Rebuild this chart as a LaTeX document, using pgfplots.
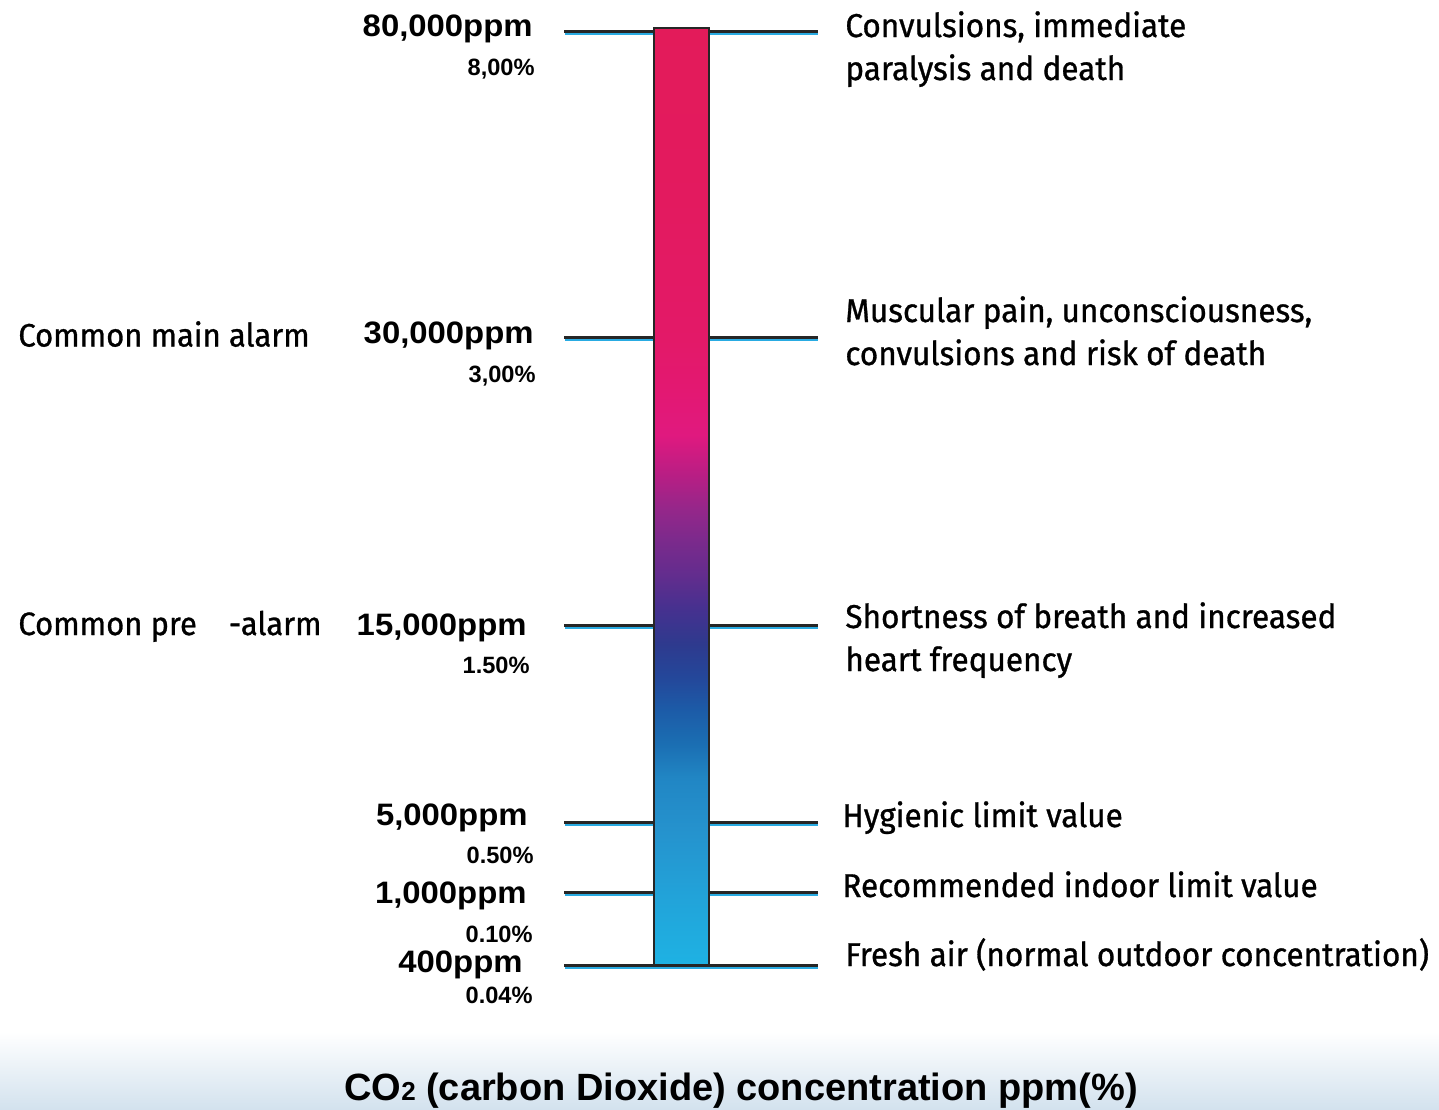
\documentclass[border=0pt]{standalone}
\usepackage{fontspec}
\setmainfont{Liberation Sans}
\newfontfamily\ppmfont{Liberation Sans}[FakeStretch=1.06]
\newfontfamily\descfont{Fira Sans}[FakeStretch=0.955,FakeBold=0.9]
\usepackage{pgfplots}
\pgfplotsset{compat=1.18}
\definecolor{lineblue}{HTML}{29ABE2}
\definecolor{bandblue}{HTML}{D3E2EE}
\definecolor{g01}{HTML}{1EB2E3}
\definecolor{g02}{HTML}{22A3D9}
\definecolor{g03}{HTML}{2592CD}
\definecolor{g04}{HTML}{2186C4}
\definecolor{g05}{HTML}{1B6FB3}
\definecolor{g06}{HTML}{1C5CA8}
\definecolor{g07}{HTML}{24479A}
\definecolor{g08}{HTML}{2E3A8E}
\definecolor{g09}{HTML}{45318F}
\definecolor{g10}{HTML}{622D8E}
\definecolor{g11}{HTML}{7A2A8C}
\definecolor{g12}{HTML}{95278A}
\definecolor{g13}{HTML}{B81E84}
\definecolor{g14}{HTML}{E0197F}
\definecolor{g15}{HTML}{E31872}
\definecolor{g16}{HTML}{E31968}
\definecolor{g17}{HTML}{E31A5F}
\definecolor{g18}{HTML}{E31B5A}
\pgfdeclareverticalshading{co2}{100bp}{color(0bp)=(g01); color(25bp)=(g01);
 color(28.68bp)=(g02); color(32.26bp)=(g03); color(34.98bp)=(g04);
 color(36.74bp)=(g05); color(38.56bp)=(g06); color(40.37bp)=(g07);
 color(42.13bp)=(g08); color(43.95bp)=(g09); color(45.76bp)=(g10);
 color(47.57bp)=(g11); color(49.33bp)=(g12); color(51.15bp)=(g13);
 color(53.28bp)=(g14); color(55.63bp)=(g15); color(58.35bp)=(g16);
 color(65.82bp)=(g17); color(75bp)=(g18); color(100bp)=(g18)}
\begin{document}
\begin{tikzpicture}
\begin{axis}[width=719.5pt,height=554.5pt,scale only axis,
  xmin=0,xmax=1439,ymin=0,ymax=1109,y dir=reverse,hide axis,clip=false]
% bottom band
\addplot[draw=none, shade, top color=white, bottom color=bandblue] coordinates {(0,1032) (1439,1032) (1439,1109) (0,1109)} -- cycle;
% level lines (cyan under-edge)
\addplot[lineblue, line width=1pt] coordinates {(565,33.5) (818,33.5)};
\addplot[lineblue, line width=1pt] coordinates {(565,339.5) (818,339.5)};
\addplot[lineblue, line width=1pt] coordinates {(565,627.5) (818,627.5)};
\addplot[lineblue, line width=1pt] coordinates {(565,824.5) (818,824.5)};
\addplot[lineblue, line width=1pt] coordinates {(565,894.5) (818,894.5)};
\addplot[lineblue, line width=1pt] coordinates {(565,967.5) (818,967.5)};
\addplot[black!85, line width=1.5pt] coordinates {(564,31) (818,31)};
\addplot[black!85, line width=1.5pt] coordinates {(564,337) (818,337)};
\addplot[black!85, line width=1.5pt] coordinates {(564,625) (818,625)};
\addplot[black!85, line width=1.5pt] coordinates {(564,822) (818,822)};
\addplot[black!85, line width=1.5pt] coordinates {(564,892) (818,892)};
\addplot[black!85, line width=1.5pt] coordinates {(564,965) (818,965)};
% gradient bar
\addplot[draw=black!85, line width=1.3pt, shade, shading=co2] coordinates {(654,28) (709,28) (709,965) (654,965)} -- cycle;
% ppm labels
\node[anchor=base east, inner sep=0, font=\ppmfont\bfseries\fontsize{15.5}{18}\selectfont] at (axis cs:533,36.5) {80,000ppm};
\node[anchor=base east, inner sep=0, font=\ppmfont\bfseries\fontsize{15.5}{18}\selectfont] at (axis cs:534,343) {30,000ppm};
\node[anchor=base east, inner sep=0, font=\ppmfont\bfseries\fontsize{15.5}{18}\selectfont] at (axis cs:527,635) {15,000ppm};
\node[anchor=base east, inner sep=0, font=\ppmfont\bfseries\fontsize{15.5}{18}\selectfont] at (axis cs:528,825) {5,000ppm};
\node[anchor=base east, inner sep=0, font=\ppmfont\bfseries\fontsize{15.5}{18}\selectfont] at (axis cs:527,903) {1,000ppm};
\node[anchor=base east, inner sep=0, font=\ppmfont\bfseries\fontsize{15.5}{18}\selectfont] at (axis cs:523,972.5) {400ppm};
% percent labels
\node[anchor=base east, inner sep=0, font=\bfseries\fontsize{11.8}{14}\selectfont] at (axis cs:535,75) {8,00\%};
\node[anchor=base east, inner sep=0, font=\bfseries\fontsize{11.8}{14}\selectfont] at (axis cs:536,382.5) {3,00\%};
\node[anchor=base east, inner sep=0, font=\bfseries\fontsize{11.8}{14}\selectfont] at (axis cs:530,673) {1.50\%};
\node[anchor=base east, inner sep=0, font=\bfseries\fontsize{11.8}{14}\selectfont] at (axis cs:534,863) {0.50\%};
\node[anchor=base east, inner sep=0, font=\bfseries\fontsize{11.8}{14}\selectfont] at (axis cs:533,942) {0.10\%};
\node[anchor=base east, inner sep=0, font=\bfseries\fontsize{11.8}{14}\selectfont] at (axis cs:533,1003) {0.04\%};
% left alarm labels
\node[anchor=base west, inner sep=0, font=\descfont\fontsize{16.2}{20}\selectfont] at (axis cs:18,346.5) {Common main alarm};
\node[anchor=base west, inner sep=0, font=\descfont\fontsize{16.2}{20}\selectfont] at (axis cs:18,635) {Common pre\hspace{16pt}-alarm};
% right descriptions
\node[anchor=base west, inner sep=0, font=\descfont\fontsize{16.5}{20}\selectfont] at (axis cs:845,37) {Convulsions, immediate};
\node[anchor=base west, inner sep=0, font=\descfont\fontsize{16.5}{20}\selectfont] at (axis cs:845,80) {paralysis and death};
\node[anchor=base west, inner sep=0, font=\descfont\fontsize{16.5}{20}\selectfont] at (axis cs:845,322) {Muscular pain, unconsciousness,};
\node[anchor=base west, inner sep=0, font=\descfont\fontsize{16.5}{20}\selectfont] at (axis cs:845,365) {convulsions and risk of death};
\node[anchor=base west, inner sep=0, font=\descfont\fontsize{16.5}{20}\selectfont] at (axis cs:845,628) {Shortness of breath and increased};
\node[anchor=base west, inner sep=0, font=\descfont\fontsize{16.5}{20}\selectfont] at (axis cs:845,671) {heart frequency};
\node[anchor=base west, inner sep=0, font=\descfont\fontsize{16.5}{20}\selectfont] at (axis cs:842,827) {Hygienic limit value};
\node[anchor=base west, inner sep=0, font=\descfont\fontsize{16.5}{20}\selectfont] at (axis cs:842,897) {Recommended indoor limit value};
\node[anchor=base west, inner sep=0, font=\descfont\fontsize{16.5}{20}\selectfont] at (axis cs:845,966) {Fresh air (normal outdoor concentration)};
% title
\node[anchor=base, inner sep=0, font=\bfseries\fontsize{19}{22}\selectfont] at (axis cs:741,1100) {CO{\fontsize{13}{14}\selectfont 2} (carbon Dioxide) concentration ppm(\%)};
\end{axis}
\pgfresetboundingbox
\path (current axis.south west) rectangle (current axis.north east);
\end{tikzpicture}
\end{document}
